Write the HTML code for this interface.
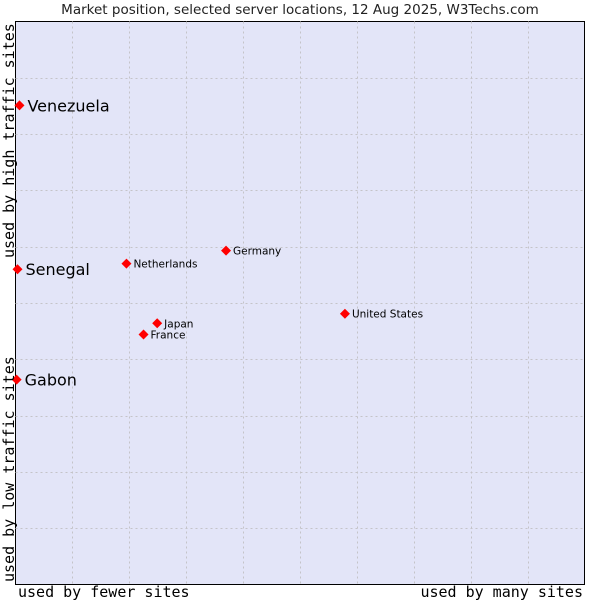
<!DOCTYPE html>
<html><head><meta charset="utf-8"><style>
body{margin:0;background:#fff;}
svg text{font-family:"DejaVu Sans","Liberation Sans",sans-serif;}
.mono{font-family:"DejaVu Sans Mono","Liberation Mono",monospace !important;}
</style></head><body>
<svg id="chart" width="600" height="600" xmlns="http://www.w3.org/2000/svg">
<text x="300" y="14" text-anchor="middle" font-size="13.5" fill="#222">Market position, selected server locations, 12 Aug 2025, W3Techs.com</text>
<rect x="15.5" y="21.5" width="569" height="563" fill="#e3e5f8" stroke="#000"/>
<g id="grid"></g>
<g id="pts"></g>
<text class="mono" x="18" y="597" font-size="15" fill="#000">used by fewer sites</text>
<text class="mono" x="583" y="597" font-size="15" text-anchor="end" fill="#000">used by many sites</text>
<text class="mono" transform="translate(14,582) rotate(-90)" font-size="15" fill="#000">used by low traffic sites</text>
<text class="mono" transform="translate(14,258) rotate(-90)" font-size="15" fill="#000">used by high traffic sites</text>
</svg>
<script>
const names=["Venezuela","Senegal","Gabon","Netherlands","Germany","United States","Japan","France"];
const xs=[0.7,0.35,0.2,19.5,37,57.9,24.9,22.5];
const ys=[85.1,56,36.4,57,59.3,48.1,46.4,44.4];
const big=[true,true,true,false,false,false,false,false];
const L=15.5,R=584.5,T=21.5,B=584.5;
const sx=v=>L+v/100*(R-L), sy=v=>B-v/100*(B-T);
const ns="http://www.w3.org/2000/svg";
const grid=document.getElementById('grid'), pts=document.getElementById('pts');
for(let i=1;i<10;i++){
 const x=Math.round(sx(i*10))+0.5, y=Math.round(sy(i*10))+0.5;
 const v=document.createElementNS(ns,'line');
 v.setAttribute('x1',x);v.setAttribute('x2',x);v.setAttribute('y1',T);v.setAttribute('y2',B);
 v.setAttribute('stroke','#c4c4c8');v.setAttribute('stroke-dasharray','2,3');
 
 
 grid.appendChild(v);
 const h=document.createElementNS(ns,'line');
 h.setAttribute('x1',L);h.setAttribute('x2',R);h.setAttribute('y1',y);h.setAttribute('y2',y);
 h.setAttribute('stroke','#c4c4c8');h.setAttribute('stroke-dasharray','2,3');
 
 
 grid.appendChild(h);
}
names.forEach((n,i)=>{
 const x=sx(xs[i]), y=sy(ys[i]);
 const d=document.createElementNS(ns,'polygon');
 d.setAttribute('points',`${x},${y-5} ${x+5},${y} ${x},${y+5} ${x-5},${y}`);
 d.setAttribute('fill','#f00');
 
 
 pts.appendChild(d);
 const t=document.createElementNS(ns,'text');
 t.setAttribute('x',x+(big[i]?8:7));t.setAttribute('y',y+(big[i]?6:4));
 t.setAttribute('font-size',big[i]?16:10.5);t.setAttribute('fill','#000');
 t.textContent=n;
 
 
 pts.appendChild(t);
});
</script>
</body></html>
